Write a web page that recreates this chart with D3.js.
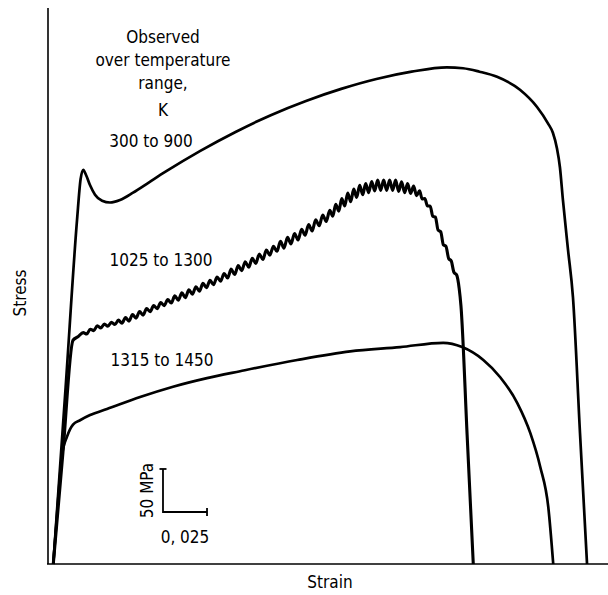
<!DOCTYPE html>
<html>
<head>
<meta charset="utf-8">
<script src="https://cdn.jsdelivr.net/npm/d3@7"></script>
<style>
html,body{margin:0;padding:0;background:#fff;}
svg{display:block;}
text{font-family:"DejaVu Sans Condensed","DejaVu Sans",sans-serif;font-stretch:condensed;fill:#000;}
</style>
</head>
<body>
<div id="chart"></div>
<script>
// ---- data (strain, stress in MPa) ----
const curve300to900 = [[0.003,0],[0.010,205],[0.0165,400],[0.0185,447],[0.0200,458],[0.0216,452],[0.0239,440],[0.0267,429],[0.0307,422],[0.0352,420],[0.0409,423],[0.0483,431.5],[0.0574,443.5],[0.0665,455.5],[0.0865,480],[0.1065,502],[0.1265,521.5],[0.1465,538],[0.1665,552],[0.1865,563.5],[0.2065,572],[0.2265,577],[0.2357,576],[0.2450,572],[0.2550,566],[0.2680,551],[0.2777,531],[0.2839,512],[0.2867,501],[0.2890,483],[0.2907,461],[0.2924,423],[0.2953,365],[0.2981,310],[0.3021,152],[0.3061,0]];

const curve1025to1300 = [[0.003,0],[0.0085,130],[0.0142,260],[0.017,264],
[0.020,268.8],[0.022,267.2],[0.024,272.8],[0.026,271.2],[0.028,276.8],[0.030,274.2],[0.032,278.8],[0.034,276.2],[0.036,280.8],[0.038,278.2],[0.040,283.3],
[0.042,279.7],[0.044,286.3],[0.046,282.2],[0.048,289.8],[0.050,285.7],[0.052,293.3],[0.054,289.2],[0.056,296.8],[0.058,293.2],[0.060,300.3],[0.062,296.7],[0.064,303.8],[0.066,300.2],[0.068,307.3],[0.070,303.2],
[0.072,311.5],[0.074,306.5],[0.076,315],[0.078,309.5],[0.080,318.5],[0.082,313.5],[0.084,322],[0.086,317],[0.088,326],[0.090,321],[0.092,329.5],[0.094,324.5],[0.096,333.5],[0.098,328.5],[0.100,337.5],
[0.102,332.3],[0.104,342.7],[0.106,336.3],[0.108,346.7],[0.110,340.8],[0.112,351.2],[0.114,344.8],[0.116,355.2],[0.118,349.3],[0.120,360.2],[0.122,353.8],[0.124,364.7],[0.126,358.8],[0.128,369.2],[0.130,363.3],
[0.132,375],[0.134,367],[0.136,379.5],[0.138,372],[0.140,384],[0.142,376.5],[0.144,389],[0.146,382],[0.148,394.5],[0.150,387],[0.152,400],[0.154,393],[0.156,405.5],[0.158,398],[0.160,411],
[0.1617,404],[0.1634,418],[0.1651,410],[0.1668,424.5],[0.1685,416],[0.1702,431],[0.1719,421],[0.1736,435.5],[0.1753,426],[0.1770,440],[0.1787,429],[0.1804,442],[0.1821,431.5],[0.1838,444.5],[0.1855,433.5],[0.1872,446],[0.1889,434],[0.1906,446],[0.1923,434],[0.1940,446],[0.1957,434],[0.1974,446],[0.1991,433],[0.2008,444],[0.2025,431.5],[0.2042,442],[0.2059,430.5],[0.2076,439],[0.2093,428],[0.2110,433.5],
[0.2125,424],[0.2140,424.5],[0.2155,416],[0.2170,416],[0.2185,404],[0.2200,403],[0.2215,388],[0.2230,386],[0.2245,371],[0.2260,369],[0.2275,355],[0.2290,352],[0.2305,339],[0.2320,336],[0.2335,320],[0.2345,300],[0.2380,150],[0.2415,0]];

const curve1315to1450 = [[0.003,0],[0.0057,74],[0.008,127],[0.0108,148],[0.0142,162],[0.0182,167],[0.0239,173],[0.0335,180],[0.0523,194],[0.0710,206],[0.0903,216],[0.1091,224],[0.1415,237],[0.1716,247],[0.2000,252],[0.2244,257],[0.2352,252],[0.2472,237],[0.2568,217],[0.2665,187],[0.2739,152],[0.2795,113],[0.2841,66],[0.2869,0]];

const legendTitle = ["Observed","over temperature","range,","K"];
const curveLabels = ["300 to 900","1025 to 1300","1315 to 1450"];
const scaleBar = {strain:0.025, stress:50, strainLabel:"0, 025", stressLabel:"50 MPa"};

// ---- layout ----
const W = 608, H = 595;
const svg = d3.select("#chart").append("svg").attr("width",W).attr("height",H);
const x = d3.scaleLinear().domain([0,0.318]).range([48,608]);
const y = d3.scaleLinear().domain([0,646]).range([564,8]);

// axes
svg.append("line").attr("x1",x(0)).attr("x2",x(0)).attr("y1",y(0)).attr("y2",y(646))
  .attr("stroke","#000").attr("stroke-width",1.6);
svg.append("line").attr("x1",x(0)-1).attr("x2",x(0.318)).attr("y1",y(0)).attr("y2",y(0))
  .attr("stroke","#000").attr("stroke-width",1.6);

const line = d3.line().x(d=>x(d[0])).y(d=>y(d[1])).curve(d3.curveMonotoneX);

svg.append("path").datum(curve300to900).attr("d",line).attr("fill","none").attr("stroke","#000").attr("stroke-width",2.7).attr("stroke-linejoin","round");
svg.append("path").datum(curve1315to1450).attr("d",line).attr("fill","none").attr("stroke","#000").attr("stroke-width",2.7).attr("stroke-linejoin","round");
svg.append("path").datum(curve1025to1300).attr("d",line).attr("fill","none").attr("stroke","#000").attr("stroke-width",3.1).attr("stroke-linejoin","round");

// texts
const fs = 17;
const tg = svg.append("g").attr("font-size",fs).attr("text-anchor","middle");
const titleY = [43,66,89,116];
legendTitle.forEach((t,i)=>tg.append("text").attr("x",163).attr("y",titleY[i]).text(t));
tg.append("text").attr("x",151).attr("y",147).text(curveLabels[0]);
tg.append("text").attr("x",161).attr("y",266).text(curveLabels[1]);
tg.append("text").attr("x",162).attr("y",366).text(curveLabels[2]);

// axis titles
svg.append("text").attr("font-size",fs).attr("text-anchor","middle")
  .attr("transform","translate(26,293) rotate(-90)").text("Stress");
svg.append("text").attr("font-size",fs).attr("text-anchor","middle")
  .attr("x",330).attr("y",588).text("Strain");

// scale bar
const sbS = 0.0653, sbP = 60.4;
const sb = svg.append("g").attr("stroke","#000").attr("stroke-width",1.8).attr("fill","none");
sb.append("path").attr("d",
  `M${x(sbS)},${y(sbP+scaleBar.stress)} L${x(sbS)},${y(sbP)} L${x(sbS+scaleBar.strain)},${y(sbP)}`);
sb.append("line").attr("x1",x(sbS)-3.5).attr("x2",x(sbS)+3.5).attr("y1",y(sbP+scaleBar.stress)).attr("y2",y(sbP+scaleBar.stress));
sb.append("line").attr("x1",x(sbS+scaleBar.strain)).attr("x2",x(sbS+scaleBar.strain)).attr("y1",y(sbP)-4).attr("y2",y(sbP)+4);
svg.append("text").attr("font-size",fs).attr("text-anchor","middle")
  .attr("transform",`translate(${x(sbS)-10},${(y(sbP)+y(sbP+scaleBar.stress))/2}) rotate(-90)`).text(scaleBar.stressLabel);
svg.append("text").attr("font-size",fs).attr("text-anchor","middle")
  .attr("x",x(sbS+scaleBar.strain/2)).attr("y",543).text(scaleBar.strainLabel);
</script>
</body>
</html>
